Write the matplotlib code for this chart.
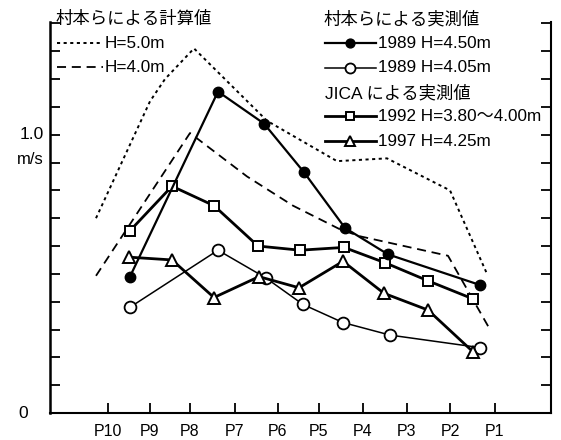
import matplotlib
matplotlib.use("Agg")
import matplotlib.pyplot as plt
from matplotlib.lines import Line2D
from matplotlib.transforms import blended_transform_factory

plt.rcParams['font.family'] = ['Liberation Sans', 'Noto Sans CJK JP', 'DejaVu Sans']

# station positions along the river (arbitrary distance units)
stations = ['P10', 'P9', 'P8', 'P7', 'P6', 'P5', 'P4', 'P3', 'P2', 'P1']
station_x = [108, 150, 190, 235, 278, 319, 363, 407, 450, 495]

# 村本らによる計算値
calc5_x = [96, 150, 165, 194, 267, 337, 387, 450, 487]
calc5_v = [0.70, 1.12, 1.20, 1.31, 1.05, 0.905, 0.915, 0.80, 0.50]
calc4_x = [96, 190, 247, 293, 340, 360, 448, 490]
calc4_v = [0.493, 1.006, 0.85, 0.745, 0.66, 0.635, 0.565, 0.30]

# 村本らによる実測値
m450_x = [130, 218, 264, 304, 345, 388, 480]
m450_v = [0.49, 1.155, 1.04, 0.865, 0.665, 0.57, 0.46]
m405_x = [130, 218, 266, 303, 343, 390, 480]
m405_v = [0.38, 0.585, 0.485, 0.39, 0.325, 0.28, 0.235]

# JICA による実測値
j92_x = [130, 172, 214, 258, 300, 344, 385, 428, 473]
j92_v = [0.655, 0.815, 0.745, 0.60, 0.585, 0.595, 0.54, 0.475, 0.41]
j97_x = [129, 172, 214, 259, 299, 343, 384, 428, 473]
j97_v = [0.56, 0.55, 0.415, 0.49, 0.45, 0.545, 0.43, 0.37, 0.22]

styles = {
    'calc5': dict(color='black', lw=1.4, ls=(0, (1.6, 1.8))),
    'calc4': dict(color='black', lw=1.3, ls=(0, (5, 3.2))),
    'm450': dict(color='black', lw=1.6, marker='o', ms=7.5, mfc='black', mec='black'),
    'm405': dict(color='black', lw=1.1, marker='o', ms=8.5, mfc='white', mec='black', mew=1.3),
    'j92': dict(color='black', lw=2.0, marker='s', ms=7, mfc='white', mec='black', mew=1.4),
    'j97': dict(color='black', lw=2.0, marker='^', ms=8, mfc='white', mec='black', mew=1.4),
}

fig = plt.figure(figsize=(5.61, 4.40), dpi=100)
ax = fig.add_axes([50 / 561, 27 / 440, 501 / 561, 391 / 440])

ax.plot(calc5_x, calc5_v, **styles['calc5'])
ax.plot(calc4_x, calc4_v, **styles['calc4'])
ax.plot(m405_x, m405_v, **styles['m405'], zorder=3)
ax.plot(j97_x, j97_v, **styles['j97'], zorder=4)
ax.plot(j92_x, j92_v, **styles['j92'], zorder=5)
ax.plot(m450_x, m450_v, **styles['m450'], zorder=6)

ax.set_xlim(50, 551)
ax.set_ylim(0, 1.405)
ax.spines['top'].set_visible(False)
ax.spines['left'].set_linewidth(1.8)
ax.spines['bottom'].set_linewidth(1.5)
ax.spines['right'].set_linewidth(1.5)

ax.set_xticks(station_x)
ax.set_xticklabels(stations, fontsize=11.5)
ax.tick_params(axis='x', direction='in', length=7, width=1.3, pad=8)
ax.set_yticks([i / 10 for i in range(15)])
ax.set_yticklabels([])
ax.tick_params(axis='y', direction='in', length=7, width=1.3, left=True, right=True)

tr = blended_transform_factory(fig.transFigure, ax.transData)
fig.text(28 / 561, 0, '0', transform=tr, ha='right', va='center', fontsize=12.5)
fig.text(44 / 561, 1.0, '1.0', transform=tr, ha='right', va='center', fontsize=12.5)
fig.text(44 / 561, 0.91, 'm/s', transform=tr, ha='right', va='center', fontsize=12)


def fp(x, y):
    return x / 561, 1 - y / 440


def key(x1, x2, y, label, style, mx=None):
    st = dict(style)
    marker = st.pop('marker', None)
    ms = st.pop('ms', None)
    mfc = st.pop('mfc', None)
    mec = st.pop('mec', None)
    mew = st.pop('mew', 1.0)
    (a, b), (c, d) = fp(x1, y), fp(x2, y)
    fig.add_artist(Line2D([a, c], [b, d], transform=fig.transFigure, **st))
    if marker:
        mxf, myf = fp(mx, y)
        fig.add_artist(Line2D([mxf], [myf], transform=fig.transFigure, marker=marker,
                              ms=ms * 0.85, mfc=mfc, mec=mec, mew=mew, ls='none'))
    tx, ty = fp(x2 + 2, y)
    fig.text(tx, ty, label, ha='left', va='center', fontsize=12.3)


# left legend
fig.text(*fp(56, 19), '村本らによる計算値', ha='left', va='center', fontsize=12.5)
key(57, 103, 43, 'H=5.0m', styles['calc5'])
key(57, 103, 67, 'H=4.0m', styles['calc4'])

# right legend
fig.text(*fp(324, 19), '村本らによる実測値', ha='left', va='center', fontsize=12.5)
key(325, 376, 43, '1989 H=4.50m', styles['m450'], 350)
key(325, 376, 68, '1989 H=4.05m', styles['m405'], 350)
fig.text(*fp(325, 93), 'JICA による実測値', ha='left', va='center', fontsize=12.5)
key(325, 376, 116, '1992 H=3.80～4.00m', styles['j92'], 350)
key(325, 376, 141, '1997 H=4.25m', styles['j97'], 350)

fig.savefig('out.png', dpi=100)
